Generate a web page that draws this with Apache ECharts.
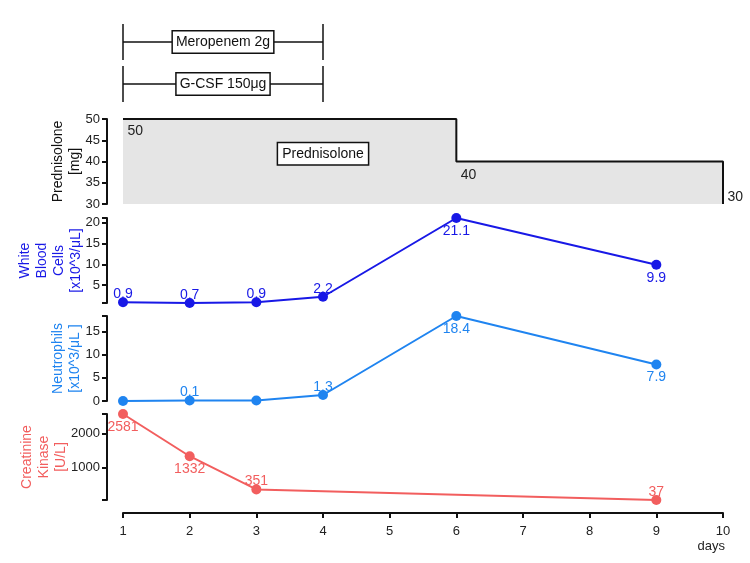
<!DOCTYPE html>
<html><head><meta charset="utf-8">
<script src="https://cdn.jsdelivr.net/npm/echarts@6/dist/echarts.min.js"></script>
<style>html,body{margin:0;padding:0;background:#fff}#c{width:750px;height:563px}</style>
</head><body><div id="c"></div>
<script>
// ---- data ----
const drugNames = ['Meropenem 2g', 'G-CSF 150\u03bcg'];
const drugStart = [1, 1];
const drugEnd = [4, 4];

const predDays = [1, 6, 6, 10, 10];
const predDose = [50, 50, 40, 40, 30];
const predLabels = ['50', '', '40', '', '30'];
const predBoxText = 'Prednisolone';

const labDays = [1, 2, 3, 4, 6, 9];
const wbc = [0.9, 0.7, 0.9, 2.2, 21.1, 9.9];
const wbcLabels = ['0.9', '0.7', '0.9', '2.2', '21.1', '9.9'];
const neut = [0.0, 0.1, 0.1, 1.3, 18.4, 7.9];
const neutLabels = ['', '0.1', '', '1.3', '18.4', '7.9'];
const ckDays = [1, 2, 3, 9];
const ck = [2581, 1332, 351, 37];
const ckLabels = ['2581', '1332', '351', '37'];

const wbcTickLabels = [5, 10, 15, 20];
const neutTickLabels = [0, 5, 10, 15];
const ckTickLabels = [1000, 2000];

// ---- styling ----
const FONT = '"Liberation Sans", Arial, sans-serif';
const C_WBC = '#1818e6';
const C_NEUT = '#1f84f0';
const C_CK = '#f25e5e';
const wbcLabelPos = ['top', 'top', 'top', 'top', 'bottom', 'bottom'];
const neutLabelPos = ['top', 'top', 'top', 'top', 'bottom', 'bottom'];
const ckLabelPos = ['bottom', 'bottom', 'top', 'top'];
const predLabelOffset = [[0, 12], [0, 0], [0, 14], [0, 0], [0, -7]];
const TICK_FS = 13;

const chart = echarts.init(document.getElementById('c'), null, {renderer: 'canvas'});

const grids = [
  {left: 123, right: 27, top: 21, height: 84},
  {left: 123, right: 27, top: 119, height: 85},
  {left: 123, right: 27, top: 218, height: 85},
  {left: 123, right: 27, top: 316, height: 85},
  {left: 123, right: 27, top: 414, height: 86}
].map(g => Object.assign(g, {outerBoundsMode: 'none', containLabel: false}));

function xax(i) {
  const base = {type: 'value', gridIndex: i, min: 1, max: 10, interval: 1, show: false};
  if (i === 4) {
    Object.assign(base, {
      show: true, offset: 13,
      axisLine: {show: true, lineStyle: {color: '#111', width: 2}},
      axisTick: {show: true, length: 5, lineStyle: {color: '#111', width: 2}},
      axisLabel: {color: '#222', fontSize: TICK_FS, fontFamily: FONT, margin: 12},
      splitLine: {show: false}
    });
  }
  return base;
}

function yax(gi, min, max, name, color, gap, extra) {
  return Object.assign({
    type: 'value', gridIndex: gi, min: min, max: max, offset: 16,
    axisLine: {show: true, lineStyle: {color: '#111', width: 2}},
    axisTick: {show: true, length: 5, lineStyle: {color: '#111', width: 2}},
    axisLabel: {color: '#222', fontSize: TICK_FS, fontFamily: FONT, margin: 7},
    splitLine: {show: false},
    name: name, nameLocation: 'middle', nameRotate: 90, nameGap: gap, nameMoveOverlap: false,
    nameTextStyle: {color: color, fontSize: 14, fontFamily: FONT, lineHeight: 17, align: 'center'}
  }, extra || {});
}

function tickCfg(values) {
  return {show: true, length: 5, lineStyle: {color: '#111', width: 2}, customValues: values};
}
function labelCfg(values) {
  return {color: '#222', fontSize: TICK_FS, fontFamily: FONT, margin: 7, customValues: values,
    formatter: v => String(v)};
}

function labelled(days, vals, labels, pos) {
  return days.map((d, i) => ({
    value: [d, vals[i]],
    label: {position: pos[i], distance: pos[i] === 'top' ? -4 : 1, formatter: labels[i]}
  }));
}

function labSeries(gi, days, vals, labels, pos, color) {
  return {
    type: 'line', xAxisIndex: gi, yAxisIndex: gi,
    data: labelled(days, vals, labels, pos),
    symbol: 'circle', symbolSize: 10, showAllSymbol: true,
    lineStyle: {color: color, width: 2}, itemStyle: {color: color},
    label: {show: true, color: color, fontSize: 14, fontFamily: FONT},
    z: 3
  };
}

const option = {
  animation: false,
  backgroundColor: '#fff',
  grid: grids,
  xAxis: [0, 1, 2, 3, 4].map(xax),
  yAxis: [
    {type: 'category', gridIndex: 0, data: drugNames, inverse: true, show: false},
    yax(1, 30, 50, 'Prednisolone\n[mg]', '#111', 23, {interval: 5}),
    yax(2, 0.7, 21.1, 'White\nBlood\nCells\n[x10^3/\u03bcL]', C_WBC, 22, {
      axisTick: tickCfg([0.7].concat(wbcTickLabels, [21.1])),
      axisLabel: labelCfg(wbcTickLabels)
    }),
    yax(3, 0, 18.4, 'Neutrophils\n[x10^3/\u03bcL ]', C_NEUT, 23, {
      axisTick: tickCfg(neutTickLabels.concat([18.4])),
      axisLabel: labelCfg(neutTickLabels)
    }),
    yax(4, 37, 2581, 'Creatinine\nKinase\n[U/L]', C_CK, 37, {
      axisTick: tickCfg([37].concat(ckTickLabels, [2581])),
      axisLabel: labelCfg(ckTickLabels)
    })
  ],
  graphic: [{
    type: 'text', right: 25, top: 540,
    style: {text: 'days', fill: '#222', font: TICK_FS + 'px ' + FONT}
  }],
  series: [
    {
      type: 'custom', xAxisIndex: 0, yAxisIndex: 0,
      data: drugNames.map((n, i) => [drugStart[i], drugEnd[i], i]),
      renderItem: function (params, api) {
        const i = api.value(2);
        const s = api.coord([api.value(0), i]);
        const e = api.coord([api.value(1), i]);
        const h = 18;
        const st = {stroke: '#111', lineWidth: 1.5};
        return {type: 'group', children: [
          {type: 'line', shape: {x1: s[0], y1: s[1], x2: e[0], y2: e[1]}, style: st},
          {type: 'line', shape: {x1: s[0], y1: s[1] - h, x2: s[0], y2: s[1] + h}, style: st},
          {type: 'line', shape: {x1: e[0], y1: e[1] - h, x2: e[0], y2: e[1] + h}, style: st},
          {type: 'text', x: (s[0] + e[0]) / 2, y: s[1], style: {
            text: drugNames[i], align: 'center', verticalAlign: 'middle',
            fill: '#111', font: '14px ' + FONT,
            backgroundColor: '#fff', borderColor: '#111', borderWidth: 1.5, padding: [4, 3, 3, 3]
          }}
        ]};
      }
    },
    {
      type: 'line', xAxisIndex: 1, yAxisIndex: 1,
      data: predDays.map((d, i) => ({
        value: [d, predDose[i]],
        label: {show: predLabels[i] !== '', position: 'right', distance: 4, offset: predLabelOffset[i], formatter: predLabels[i]}
      })),
      symbol: 'circle', symbolSize: 1, showAllSymbol: true,
      itemStyle: {color: 'rgba(0,0,0,0)'},
      lineStyle: {color: '#111', width: 2},
      areaStyle: {color: '#e5e5e5', opacity: 1, origin: 'start'},
      label: {show: true, color: '#222', fontSize: 14, fontFamily: FONT},
      markPoint: {
        symbol: 'rect', symbolSize: 0,
        data: [{coord: [4, 41.8], value: predBoxText}],
        label: {show: true, formatter: predBoxText, color: '#111', fontSize: 14, fontFamily: FONT,
          backgroundColor: '#fff', borderColor: '#111', borderWidth: 1.5, padding: [4, 4, 3, 4], position: 'inside'}
      }
    },
    labSeries(2, labDays, wbc, wbcLabels, wbcLabelPos, C_WBC),
    labSeries(3, labDays, neut, neutLabels, neutLabelPos, C_NEUT),
    labSeries(4, ckDays, ck, ckLabels, ckLabelPos, C_CK)
  ]
};
chart.setOption(option);
</script>
</body></html>
